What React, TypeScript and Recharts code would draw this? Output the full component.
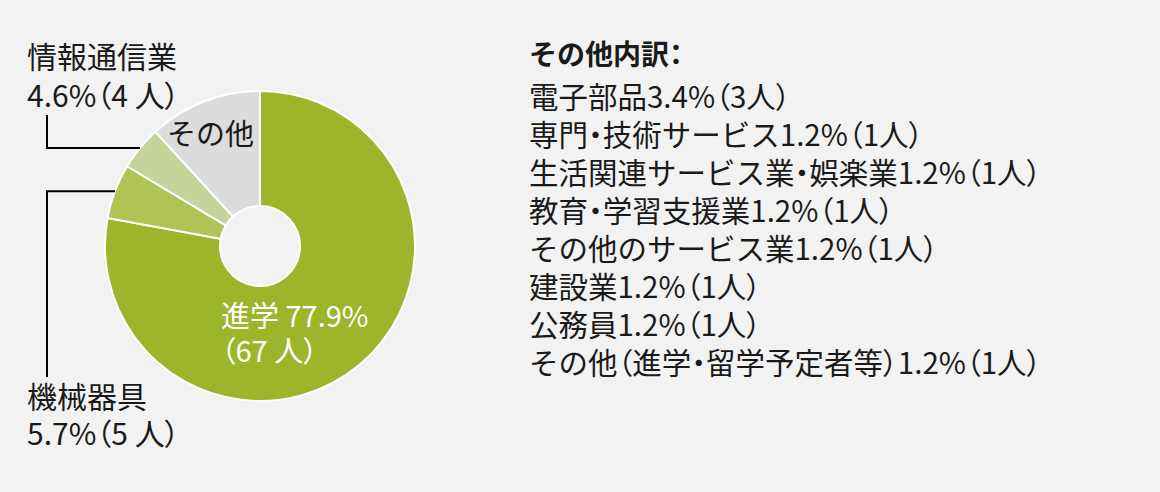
import React from "react";
import { PieChart, Pie, Cell } from "recharts";

// main donut
const categories = ["進学", "機械器具", "情報通信業", "その他"];
const shares = [77.9, 5.7, 4.6, 11.8];
const counts = [67, 5, 4, 10];
const sliceColors = ["#9db52a", "#b0c356", "#c4d49b", "#dcdcdc"];

// breakdown of "その他"
const otherTitle = "その他内訳：";
const otherNames = [
  "電子部品",
  "専門・技術サービス",
  "生活関連サービス業・娯楽業",
  "教育・学習支援業",
  "その他のサービス業",
  "建設業",
  "公務員",
  "その他（進学・留学予定者等）",
];
const otherShares = [3.4, 1.2, 1.2, 1.2, 1.2, 1.2, 1.2, 1.2];
const otherCounts = [3, 1, 1, 1, 1, 1, 1, 1];

const pieData = categories.map((name, i) => ({ name, value: shares[i], count: counts[i] }));

const FONT = '"Noto Sans CJK JP", "Noto Sans", sans-serif';
const RADIAN = Math.PI / 180;
const LEADER_X = 47;

// where each slice's label goes
const labelLayout: Record<string, any> = {
  進学: { kind: "inside", dx: -39, dy: 81, gap: 35, fill: "#ffffff", size: 29 },
  その他: { kind: "inside", dx: -93, dy: -101, gap: 38, fill: "#1a1a1a", size: 29 },
  情報通信業: { kind: "side", lineEndY: 115, textY: [68, 107], size: 30 },
  機械器具: { kind: "side", lineEndY: 377, textY: [408, 445], size: 30 },
};

const KANA = /[\u3040-\u30ff]/;
const PUNCT = /[（）・：]/;
const paltStyle = { fontFeatureSettings: '"palt"' };

// full-width punctuation gets proportional widths, kana/kanji stay full width
function runs(text: string) {
  const out: { t: string; p: boolean }[] = [];
  let buf = "";
  let isP = false;
  for (const ch of text) {
    const p = PUNCT.test(ch);
    if (buf && p !== isP) {
      out.push({ t: buf, p: isP });
      buf = "";
    }
    buf += ch;
    isP = p;
  }
  if (buf) out.push({ t: buf, p: isP });
  return out;
}

function HtmlRuns({ text }: { text: string }) {
  return (
    <>
      {runs(text).map((r, i) =>
        r.p ? (
          <span key={i} style={paltStyle}>{r.t}</span>
        ) : (
          <span key={i}>{r.t}</span>
        )
      )}
    </>
  );
}

function labelLines(name: string, value: number, count: number) {
  if (name === "進学") return [`${name} ${value}%`, `（${count} 人）`];
  if (name === "その他") return [name];
  return [name, `${value}%（${count} 人）`];
}

function LabelText({ x, y, text, fill, size }: any) {
  return (
    <text
      x={x}
      y={y}
      fill={fill}
      fontSize={size}
      fontFamily={FONT}
      textAnchor="start"
      style={KANA.test(text) ? undefined : paltStyle}
    >
      {text}
    </text>
  );
}

const renderLabel = (props: any) => {
  const { cx, cy, midAngle, outerRadius, index } = props;
  const d = pieData[index];
  const lay = labelLayout[d.name];
  const lines = labelLines(d.name, d.value, d.count);
  if (lay.kind === "inside") {
    return (
      <g key={`lbl-${index}`}>
        {lines.map((l, i) => (
          <LabelText key={i} x={cx + lay.dx} y={cy + lay.dy + i * lay.gap} text={l} fill={lay.fill} size={lay.size} />
        ))}
      </g>
    );
  }
  const sx = cx + outerRadius * Math.cos(-midAngle * RADIAN);
  const sy = cy + outerRadius * Math.sin(-midAngle * RADIAN);
  return (
    <g key={`lbl-${index}`}>
      <polyline
        points={`${sx},${sy} ${LEADER_X},${sy} ${LEADER_X},${lay.lineEndY}`}
        fill="none"
        stroke="#000"
        strokeWidth={2}
      />
      {lines.map((l, i) => (
        <LabelText key={i} x={27} y={lay.textY[i]} text={l} fill="#1a1a1a" size={lay.size} />
      ))}
    </g>
  );
};

export default function App() {
  return (
    <div
      style={{
        position: "absolute",
        left: 0,
        top: 0,
        width: 1160,
        height: 492,
        background: "#f2f2f2",
        fontFamily: FONT,
        overflow: "hidden",
      }}
    >
      <PieChart width={1160} height={492} margin={{ top: 0, right: 0, bottom: 0, left: 0 }}>
        <Pie
          data={pieData}
          dataKey="value"
          nameKey="name"
          cx={260}
          cy={246}
          innerRadius={40}
          outerRadius={155}
          startAngle={90}
          endAngle={-270}
          stroke="#ffffff"
          strokeWidth={2}
          isAnimationActive={false}
          labelLine={false}
          label={renderLabel}
        >
          {pieData.map((d, i) => (
            <Cell key={d.name} fill={sliceColors[i]} />
          ))}
        </Pie>
      </PieChart>
      <div
        style={{
          position: "absolute",
          left: 529,
          top: 34,
          fontSize: 29.5,
          lineHeight: "38px",
          color: "#1a1a1a",
          whiteSpace: "nowrap",
        }}
      >
        <div style={{ fontWeight: 700, fontSize: 28, marginBottom: 4 }}>
          <HtmlRuns text={otherTitle} />
        </div>
        {otherNames.map((n, i) => (
          <div key={n}>
            <HtmlRuns text={`${n}${otherShares[i]}%（${otherCounts[i]}人）`} />
          </div>
        ))}
      </div>
    </div>
  );
}
